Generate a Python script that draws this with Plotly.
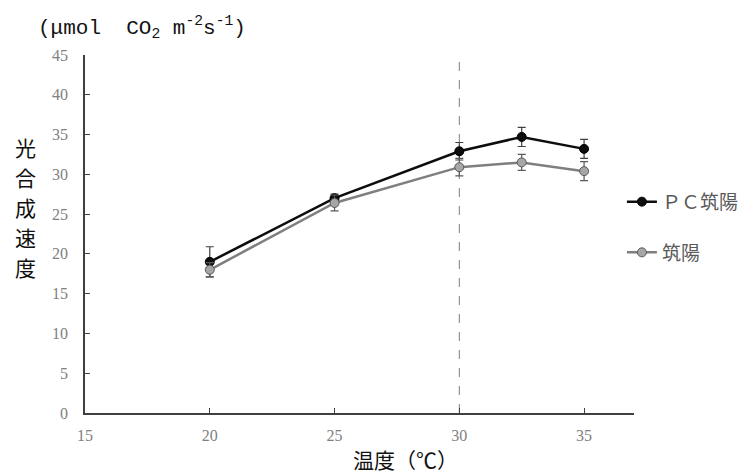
import plotly.graph_objects as go

temps = [20, 25, 30, 32.5, 35]
pc_rate = [19.0, 27.0, 32.9, 34.7, 33.2]
pc_err = [1.9, 0.5, 1.1, 1.2, 1.2]
ts_rate = [18.0, 26.4, 30.9, 31.5, 30.4]
ts_err = [0.9, 1.0, 1.1, 1.0, 1.2]
names = ["ＰＣ筑陽", "筑陽"]
x_ticks = [15, 20, 25, 30, 35]
y_ticks = [0, 5, 10, 15, 20, 25, 30, 35, 40, 45]
y_title_chars = ["光", "合", "成", "速", "度"]
x_title = "温度（℃）"

CJK = "Noto Sans CJK JP"
NUM = "Liberation Serif"

fig = go.Figure()
fig.add_trace(go.Scatter(
    x=temps, y=pc_rate, name=names[0], mode="lines+markers",
    line=dict(color="#0d0d0d", width=2.5),
    marker=dict(color="#0d0d0d", size=9, line=dict(color="#000000", width=1)),
    error_y=dict(type="data", array=pc_err, visible=True, color="#404040", thickness=1.2, width=4),
    legendgroup="a",
))
fig.add_trace(go.Scatter(
    x=temps, y=ts_rate, name=names[1], mode="lines+markers",
    line=dict(color="#7f7f7f", width=2.5),
    marker=dict(color="#a6a6a6", size=9, line=dict(color="#595959", width=1)),
    error_y=dict(type="data", array=ts_err, visible=True, color="#595959", thickness=1.2, width=4),
    legendgroup="b",
))

fig.add_shape(type="line", x0=30, x1=30, y0=0, y1=45, xref="x", yref="y",
              line=dict(color="#7f7f7f", width=1, dash="dash"), layer="below")

fig.update_layout(
    width=740, height=475,
    margin=dict(l=85, r=106, t=55, b=62, autoexpand=False),
    paper_bgcolor="white", plot_bgcolor="white",
    showlegend=True,
    legend=dict(x=0.978, y=0.643, xanchor="left", yanchor="top",
                font=dict(family=CJK, size=19, color="#595959"),
                tracegroupgap=23, bgcolor="rgba(0,0,0,0)"),
    xaxis=dict(range=[15, 37], tickvals=x_ticks, ticks="inside", ticklen=5,
               tickcolor="#404040", showline=True, linecolor="#404040", linewidth=1.5,
               showgrid=False, zeroline=False,
               tickfont=dict(family=NUM, size=16, color="#808080"),
               ticklabelstandoff=7),
    yaxis=dict(range=[0, 45], tickvals=y_ticks, ticks="inside", ticklen=5,
               tickcolor="#404040", showline=True, linecolor="#404040", linewidth=1.5,
               showgrid=False, zeroline=False,
               tickfont=dict(family=NUM, size=16, color="#808080"),
               ticklabelstandoff=12),
)

for i, ch in enumerate(y_title_chars):
    fig.add_annotation(text=ch, xref="paper", yref="paper",
                       x=-0.109, y=0.575, yshift=(2 - i) * 30,
                       xanchor="center", yanchor="middle", showarrow=False,
                       font=dict(family=CJK, size=21, color="#111111"))

fig.add_annotation(text=x_title, xref="paper", yref="paper",
                   x=0.583, y=-0.1285, xanchor="center", yanchor="middle", showarrow=False,
                   font=dict(family=CJK, size=21, color="#111111"))

fig.add_annotation(text="(μmol  CO<sub>2</sub> m<sup>-2</sup>s<sup>-1</sup>)", xref="paper", yref="paper",
                   x=-0.09, y=1.077, xanchor="left", yanchor="middle", showarrow=False,
                   font=dict(family="Liberation Mono", size=21, color="#111111"))

fig.write_html("out.html", post_script="document.body.style.margin='0';",
               config={"displayModeBar": False})
